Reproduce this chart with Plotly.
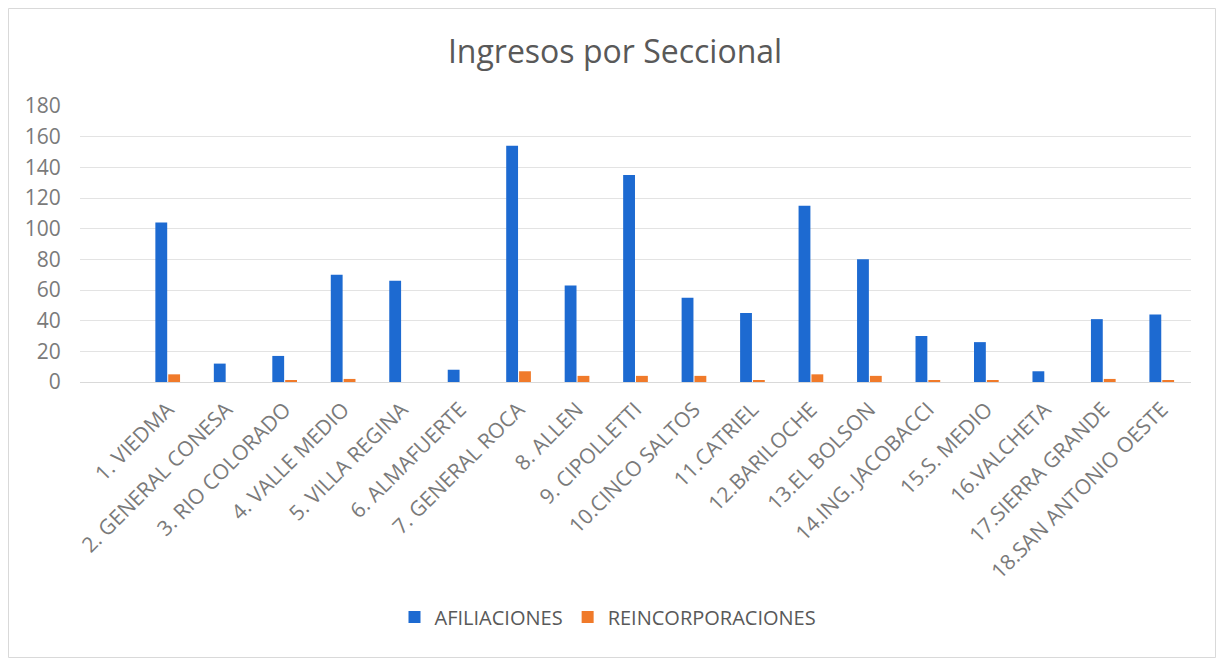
import plotly.graph_objects as go

categories = ["1. VIEDMA", "2. GENERAL CONESA", "3. RIO COLORADO", "4. VALLE MEDIO",
              "5. VILLA REGINA", "6. ALMAFUERTE", "7. GENERAL ROCA", "8. ALLEN",
              "9. CIPOLLETTI", "10.CINCO SALTOS", "11.CATRIEL", "12.BARILOCHE",
              "13.EL BOLSON", "14.ING. JACOBACCI", "15.S. MEDIO", "16.VALCHETA",
              "17.SIERRA GRANDE", "18.SAN ANTONIO OESTE"]
afiliaciones = [104, 12, 17, 70, 66, 8, 154, 63, 135, 55, 45, 115, 80, 30, 26, 7, 41, 44]
reincorporaciones = [5, 0, 1, 2, 0, 0, 7, 4, 4, 4, 1, 5, 4, 1, 1, 0, 2, 1]

# page has an 8px body margin; work in figure coordinates
OFF = 8
W, H = 1208, 650
L, R, T, B = 80 - OFF, 1191 - OFF, 106 - OFF, 382 - OFF
pw, ph = R - L, B - T

def px(x):
    return (x - OFF - L) / pw

def py(y):
    return (B - (y - OFF)) / ph

fig = go.Figure()
fig.add_trace(go.Bar(x=categories, y=afiliaciones, name="AFILIACIONES",
                     marker=dict(color="#1D6AD1", line=dict(width=0))))
fig.add_trace(go.Bar(x=categories, y=reincorporaciones, name="REINCORPORACIONES",
                     marker=dict(color="#F07A2A", line=dict(width=0))))

font_family = "Open Sans, Noto Sans, sans-serif"
fig.update_layout(
    width=W, height=H,
    margin=dict(l=L, r=W - R, t=T, b=H - B, autoexpand=False),
    paper_bgcolor="white", plot_bgcolor="white",
    barmode="group", bargap=0.56, bargroupgap=0.08,
    font=dict(family=font_family, color="#595959", size=18),
    title=dict(text="Ingresos por Seccional", x=px(615), xref="paper", xanchor="center",
               y=1 - (52 - OFF) / H, yanchor="middle",
               font=dict(size=32, color="#595959", family=font_family)),
    showlegend=True,
    legend=dict(orientation="h", x=px(608), y=py(617), xanchor="center", yanchor="middle",
                font=dict(size=20, color="#595959"), itemwidth=30, traceorder="normal"),
    xaxis=dict(type="category", range=[-1.5, 17.5], tickangle=-45, showgrid=False,
               showline=True, linecolor="#D9D9D9", ticks="", ticklabelstandoff=6,
               tickfont=dict(size=21, color="#7A7A7A")),
    yaxis=dict(range=[0, 180], dtick=20, showgrid=True, gridcolor="#E3E3E3",
               zeroline=False, showline=False, ticks="outside", ticklen=14,
               tickcolor="rgba(0,0,0,0)",
               tickfont=dict(size=21, color="#7A7A7A")),
    shapes=[dict(type="rect", xref="paper", yref="paper",
                 x0=px(8.5), x1=px(1215.5), y0=py(657.5), y1=py(8.5),
                 line=dict(color="#D9D9D9", width=1), fillcolor="rgba(0,0,0,0)",
                 layer="below")],
)

fig.write_html("out.html")
